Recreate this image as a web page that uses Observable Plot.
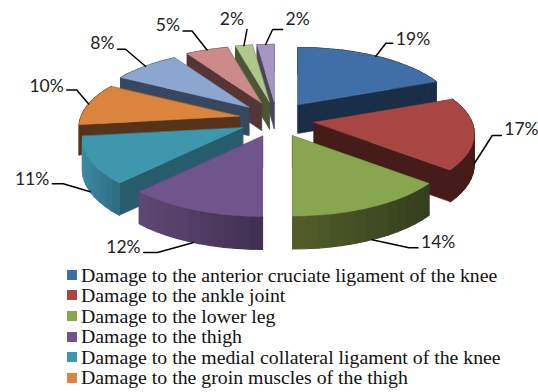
<!DOCTYPE html>
<html>
<head>
<meta charset="utf-8">
<script src="https://cdn.jsdelivr.net/npm/d3@7"></script>
<script src="https://cdn.jsdelivr.net/npm/@observablehq/plot@0.6"></script>
<style>
  html, body { margin: 0; padding: 0; background: #fff; }
  #chart { width: 538px; height: 392px; position: relative; overflow: hidden; }
  #chart svg { display: block; }
  #legend { position: absolute; left: 67px; top: 264.5px; font-family: "Liberation Serif", serif; font-size: 19.8px; color: #111; white-space: nowrap; }
  #legend div { height: 20.6px; line-height: 20.6px; display: flex; align-items: center; }
  #legend i { width: 10px; height: 10px; margin-right: 4px; display: inline-block; flex: none; }
</style>
</head>
<body>
<div id="chart"></div>
<script>
// Share of each injury type, percent, clockwise from twelve o'clock
const values = [19, 17, 14, 12, 11, 10, 8, 5, 2, 2];
const categories = [
  "Damage to the anterior cruciate ligament of the knee",
  "Damage to the ankle joint",
  "Damage to the lower leg",
  "Damage to the thigh",
  "Damage to the medial collateral ligament of the knee",
  "Damage to the groin muscles of the thigh"
];
const topColors = ["#3f6fa6", "#a84644", "#88a64f", "#70558c", "#3f97ae", "#db843d", "#8ca7cf", "#cc8a88", "#afc78c", "#a496c0"];
const faceColors = ["#1a2e48", "#451c19", "#38401f", "#46365a", "#265c6c", "#57331a", "#374760", "#553636", "#4b5636", "#4b4458"];
// Rim shading, left end and right end of each slice's outer wall
const rimLeft = ["#1a2e48", "#451c19", "#535e2b", "#5f4875", "#3d8aa2", "#57331a", "#374760", "#553636", "#4b5636", "#4b4458"];
const rimRight = ["#1a2e48", "#451c19", "#343e1d", "#3f3050", "#2c6b80", "#57331a", "#374760", "#553636", "#4b5636", "#4b4458"];

// Leader layout per slice: elbow offset from the rim, tail length, label lift
const leaderLayout = [
  [10, -13, 7, 4], [18, -28, 9, 6], [37, 8, 9, 5], [-36, 10, -14, 5], [-27, -8, -11, 4],
  [-12, -14, -10, 4], [-20, -17, -8, 6], [-15, -19, -9, 6], [3, -16, -0.01, 10], [7, -15, 10, 10]
];

// Tilted, exploded pie: a rim point seen in perspective from its slice's apex
const center = [276, 119], explodeX = 38, explodeY = 18;
const radiusX = 158, radiusY = 66.7, nearness = 0.168;
const rad = (deg) => (deg * Math.PI) / 180;
const scaleAt = (deg) => 1 / (1 + nearness * Math.cos(rad(deg)));
const depthAt = (deg) => 30 - 3 * Math.cos(rad(deg));
const total = d3.sum(values);
const slices = [];
values.reduce((start, v, i) => {
  const end = start + (v / total) * 360;
  const mid = (start + end) / 2;
  const apex = [
    center[0] + explodeX * Math.sin(rad(mid)),
    center[1] - explodeY * Math.cos(rad(mid))
  ];
  slices.push({ i, v, start, end, mid, apex });
  return end;
}, 0);
const rim = (s, deg) => {
  const k = scaleAt(deg);
  return [s.apex[0] + radiusX * Math.sin(rad(deg)) * k, s.apex[1] - radiusY * Math.cos(rad(deg)) * k];
};
const arcAngles = (s) => {
  const n = Math.max(2, Math.ceil((s.end - s.start) / 4));
  return d3.range(n + 1).map((j) => s.start + ((s.end - s.start) * j) / n);
};

// Polygons in painter's order, far slices first
const paintOrder = [9, 8, 7, 6, 0, 5, 1, 4, 3, 2];
const polys = [];
let polyId = 0;
const addPoly = (points, color, width) => {
  const id = polyId++;
  points.forEach(([x, y]) => polys.push({ id, x, y, color, width }));
};
for (const idx of paintOrder) {
  const s = slices[idx];
  const angles = arcAngles(s);
  const drop = ([x, y], deg) => [x, y + depthAt(deg)];
  // Cut faces of the wedge
  for (const deg of [s.start, s.end]) {
    const r = rim(s, deg);
    addPoly([s.apex, r, drop(r, deg), [s.apex[0], s.apex[1] + depthAt(deg)]], faceColors[idx], 0.5);
  }
  // Outer wall, shaded from left to right
  const xs = angles.map((a) => rim(s, a)[0]);
  const shade = d3.scaleLinear().domain(d3.extent(xs)).range([rimLeft[idx], rimRight[idx]]);
  d3.pairs(angles).forEach(([a, b]) => {
    const p = rim(s, a), q = rim(s, b);
    addPoly([p, q, drop(q, b), drop(p, a)], shade((p[0] + q[0]) / 2), 1.2);
  });
  // Top surface
  addPoly([s.apex, ...angles.map((a) => rim(s, a))], topColors[idx], 0.5);
}

// Leader lines and percentage labels
const leaders = [];
const labels = [];
slices.forEach((s) => {
  const [ex, ey, tail, lift] = leaderLayout[s.i];
  const r = rim(s, s.mid);
  const from = [r[0], r[1] + (Math.cos(rad(s.mid)) < 0 ? depthAt(s.mid) : 0)];
  const elbow = [from[0] + ex, from[1] + ey];
  const end = [elbow[0] + tail, elbow[1]];
  [from, elbow, end].forEach(([x, y]) => leaders.push({ id: s.i, x, y }));
  labels.push({ x: end[0] + (tail > 0 ? 3 : -3), y: end[1] - lift, text: `${s.v}%`, anchor: tail > 0 ? "start" : "end" });
});

const labelStyle = { x: "x", y: "y", text: "text", fontSize: 17.5, fontFamily: "Lato, sans-serif", fill: "#222" };
const plot = Plot.plot({
  width: 538,
  height: 262,
  margin: 0,
  x: { domain: [0, 538], range: [0, 538], axis: null },
  y: { domain: [0, 262], range: [0, 262], axis: null },
  marks: [
    Plot.line(polys, { x: "x", y: "y", z: "id", fill: "color", stroke: "color", strokeWidth: "width", strokeLinejoin: "round", curve: "linear-closed" }),
    Plot.line(leaders, { x: "x", y: "y", z: "id", stroke: "#000", strokeWidth: 1.5, curve: "linear" }),
    Plot.text(labels.filter((d) => d.anchor === "start"), { ...labelStyle, textAnchor: "start" }),
    Plot.text(labels.filter((d) => d.anchor === "end"), { ...labelStyle, textAnchor: "end" })
  ]
});

const chart = document.getElementById("chart");
chart.appendChild(plot);

const legend = document.createElement("div");
legend.id = "legend";
categories.forEach((name, i) => {
  const row = document.createElement("div");
  const key = document.createElement("i");
  key.style.background = topColors[i];
  row.appendChild(key);
  row.appendChild(document.createTextNode(name));
  legend.appendChild(row);
});
chart.appendChild(legend);
</script>
</body>
</html>
